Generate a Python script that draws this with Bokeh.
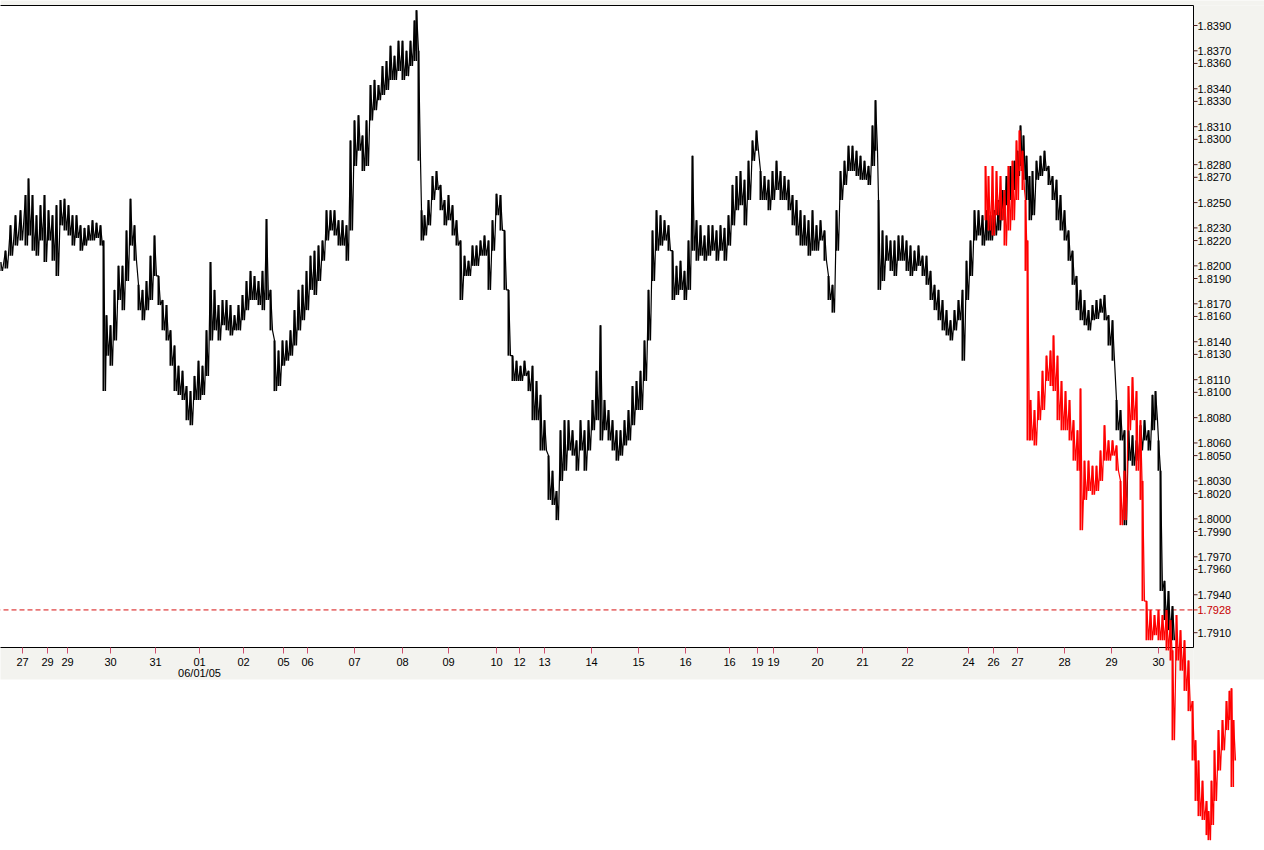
from bokeh.plotting import figure
from bokeh.models import Range1d
from bokeh.core.properties import value
from bokeh.embed import file_html
from bokeh.resources import INLINE

# ---------------- data ----------------
black_bar = [0, 5, 10, 15, 20, 25, 28, 32, 36, 40, 44, 48, 52, 56, 60, 64, 68, 72, 76, 80, 84, 88, 92, 96, 100,
             103, 106, 110, 114, 118, 122, 126, 130, 134, 138, 142, 146, 150, 154, 158, 162, 166, 170, 174, 178,
             182, 186, 190, 194, 198, 202, 206, 210, 214, 218, 222, 226, 230, 234, 238, 242, 246, 250, 254, 258,
             262, 266, 270, 274, 278, 282, 286, 290, 294, 298, 302, 306, 310, 314, 318, 322, 326, 330, 334, 338,
             342, 346, 350, 354, 358, 362, 366, 370, 374, 378, 382, 386, 390, 394, 398, 402, 406, 410, 414, 416,
             418, 421, 424, 428, 432, 436, 440, 444, 448, 452, 456, 460, 464, 468, 472, 476, 480, 484, 488, 492,
             496, 500, 504, 508, 512, 516, 520, 524, 528, 532, 536, 540, 544, 548, 552, 556, 560, 564, 568, 572,
             576, 580, 584, 588, 592, 596, 600, 604, 608, 612, 616, 620, 624, 628, 632, 636, 640, 644, 648, 652,
             656, 660, 664, 668, 672, 676, 680, 684, 688, 692, 696, 700, 704, 708, 712, 716, 720, 724, 728, 732,
             736, 740, 744, 748, 752, 756, 760, 764, 768, 772, 776, 780, 784, 788, 792, 796, 800, 804, 808, 812,
             816, 820, 824, 828, 832, 836, 840, 844, 848, 852, 856, 860, 864, 868, 872, 875, 878, 882, 886, 890,
             894, 898, 902, 906, 910, 914, 918, 922, 926, 930, 934, 938, 942, 946, 950, 954, 958, 962, 966, 970,
             974, 978, 982, 986, 990, 994, 998, 1002, 1006, 1010, 1014, 1017, 1020, 1023, 1026, 1029, 1032, 1036,
             1040, 1044, 1048, 1052, 1056, 1060, 1064, 1068, 1072, 1076, 1080, 1084, 1088, 1092, 1096, 1100, 1104,
             1108, 1112, 1116, 1120, 1124, 1128, 1132, 1136, 1140, 1144, 1148, 1152, 1155, 1158, 1160, 1164, 1168,
             1172]
black_high = [1.8203, 1.8212, 1.8232, 1.8240, 1.8244, 1.8256, 1.8269, 1.8256, 1.8240, 1.8248, 1.8256, 1.8244,
              1.8240, 1.8248, 1.8252, 1.8253, 1.8248, 1.8240, 1.8240, 1.8232, 1.8230, 1.8232, 1.8236, 1.8234,
              1.8232, 1.8220, 1.8161, 1.8153, 1.8181, 1.8200, 1.8200, 1.8228, 1.8253, 1.8232, 1.8185, 1.8181,
              1.8188, 1.8208, 1.8224, 1.8192, 1.8173, 1.8169, 1.8149, 1.8137, 1.8121, 1.8117, 1.8105, 1.8101,
              1.8113, 1.8125, 1.8121, 1.8149, 1.8203, 1.8181, 1.8169, 1.8173, 1.8173, 1.8169, 1.8161, 1.8169,
              1.8177, 1.8188, 1.8196, 1.8192, 1.8188, 1.8196, 1.8237, 1.8181, 1.8141, 1.8133, 1.8141, 1.8141,
              1.8149, 1.8165, 1.8181, 1.8185, 1.8196, 1.8208, 1.8212, 1.8216, 1.8220, 1.8244, 1.8244, 1.8244,
              1.8236, 1.8236, 1.8232, 1.8299, 1.8315, 1.8319, 1.8303, 1.8315, 1.8343, 1.8347, 1.8343, 1.8358,
              1.8362, 1.8374, 1.8366, 1.8378, 1.8378, 1.8370, 1.8378, 1.8394, 1.8402, 1.8370, 1.8244, 1.8240,
              1.8252, 1.8271, 1.8275, 1.8264, 1.8252, 1.8256, 1.8248, 1.8236, 1.8220, 1.8208, 1.8204, 1.8216,
              1.8216, 1.8220, 1.8224, 1.8220, 1.8236, 1.8257, 1.8256, 1.8228, 1.8181, 1.8129, 1.8125, 1.8121,
              1.8125, 1.8117, 1.8121, 1.8109, 1.8098, 1.8078, 1.8050, 1.8038, 1.8022, 1.8070, 1.8078, 1.8078,
              1.8070, 1.8062, 1.8078, 1.8070, 1.8078, 1.8094, 1.8117, 1.8153, 1.8094, 1.8086, 1.8078, 1.8070,
              1.8070, 1.8078, 1.8086, 1.8105, 1.8109, 1.8117, 1.8141, 1.8181, 1.8228, 1.8244, 1.8240, 1.8236,
              1.8232, 1.8212, 1.8200, 1.8204, 1.8196, 1.8220, 1.8287, 1.8236, 1.8232, 1.8224, 1.8232, 1.8232,
              1.8228, 1.8232, 1.8230, 1.8240, 1.8264, 1.8271, 1.8275, 1.8268, 1.8283, 1.8299, 1.8307, 1.8275,
              1.8271, 1.8268, 1.8275, 1.8283, 1.8275, 1.8271, 1.8268, 1.8256, 1.8252, 1.8244, 1.8240, 1.8236,
              1.8244, 1.8232, 1.8236, 1.8228, 1.8192, 1.8185, 1.8244, 1.8275, 1.8283, 1.8295, 1.8295, 1.8291,
              1.8287, 1.8283, 1.8279, 1.8311, 1.8331, 1.8252, 1.8228, 1.8224, 1.8220, 1.8220, 1.8224, 1.8224,
              1.8220, 1.8216, 1.8212, 1.8216, 1.8208, 1.8208, 1.8196, 1.8185, 1.8181, 1.8173, 1.8165, 1.8157,
              1.8165, 1.8173, 1.8181, 1.8204, 1.8220, 1.8244, 1.8244, 1.8240, 1.8244, 1.8240, 1.8244, 1.8252,
              1.8260, 1.8271, 1.8279, 1.8283, 1.8291, 1.8311, 1.8303, 1.8287, 1.8271, 1.8275, 1.8283, 1.8287,
              1.8291, 1.8279, 1.8271, 1.8268, 1.8256, 1.8244, 1.8228, 1.8212, 1.8192, 1.8181, 1.8173, 1.8165,
              1.8169, 1.8173, 1.8174, 1.8177, 1.8161, 1.8157, 1.8094, 1.8086, 1.8070, 1.8070, 1.8066, 1.8062,
              1.8074, 1.8078, 1.8070, 1.8098, 1.8101, 1.8062, 1.8038, 1.7951, 1.7943, 1.7931]
black_low = [1.8196, 1.8198, 1.8208, 1.8216, 1.8220, 1.8216, 1.8224, 1.8212, 1.8208, 1.8220, 1.8203, 1.8220,
             1.8204, 1.8192, 1.8232, 1.8228, 1.8224, 1.8216, 1.8222, 1.8212, 1.8216, 1.8220, 1.8220, 1.8222,
             1.8216, 1.8101, 1.8129, 1.8121, 1.8141, 1.8173, 1.8165, 1.8188, 1.8216, 1.8204, 1.8165, 1.8157,
             1.8165, 1.8173, 1.8192, 1.8169, 1.8149, 1.8141, 1.8121, 1.8101, 1.8098, 1.8094, 1.8078, 1.8074,
             1.8094, 1.8094, 1.8098, 1.8113, 1.8141, 1.8149, 1.8141, 1.8153, 1.8149, 1.8145, 1.8149, 1.8149,
             1.8157, 1.8165, 1.8173, 1.8173, 1.8169, 1.8165, 1.8173, 1.8149, 1.8101, 1.8105, 1.8121, 1.8125,
             1.8129, 1.8137, 1.8149, 1.8157, 1.8165, 1.8181, 1.8177, 1.8188, 1.8204, 1.8220, 1.8228, 1.8224,
             1.8216, 1.8216, 1.8204, 1.8228, 1.8279, 1.8291, 1.8275, 1.8279, 1.8315, 1.8323, 1.8331, 1.8335,
             1.8339, 1.8347, 1.8347, 1.8354, 1.8347, 1.8350, 1.8358, 1.8362, 1.8370, 1.8283, 1.8220, 1.8224,
             1.8232, 1.8252, 1.8260, 1.8244, 1.8232, 1.8236, 1.8224, 1.8216, 1.8173, 1.8192, 1.8192, 1.8200,
             1.8200, 1.8208, 1.8208, 1.8181, 1.8212, 1.8240, 1.8228, 1.8181, 1.8129, 1.8109, 1.8109, 1.8109,
             1.8113, 1.8101, 1.8078, 1.8078, 1.8054, 1.8054, 1.8015, 1.8011, 1.7999, 1.8030, 1.8038, 1.8054,
             1.8050, 1.8038, 1.8054, 1.8038, 1.8054, 1.8070, 1.8078, 1.8062, 1.8070, 1.8062, 1.8054, 1.8046,
             1.8050, 1.8058, 1.8062, 1.8074, 1.8086, 1.8086, 1.8109, 1.8141, 1.8188, 1.8212, 1.8216, 1.8220,
             1.8212, 1.8173, 1.8177, 1.8181, 1.8173, 1.8181, 1.8212, 1.8204, 1.8208, 1.8204, 1.8208, 1.8212,
             1.8204, 1.8212, 1.8204, 1.8216, 1.8232, 1.8244, 1.8248, 1.8232, 1.8252, 1.8283, 1.8291, 1.8252,
             1.8252, 1.8244, 1.8252, 1.8260, 1.8252, 1.8252, 1.8244, 1.8232, 1.8224, 1.8216, 1.8216, 1.8208,
             1.8212, 1.8212, 1.8220, 1.8204, 1.8173, 1.8163, 1.8212, 1.8252, 1.8264, 1.8275, 1.8275, 1.8271,
             1.8268, 1.8268, 1.8264, 1.8279, 1.8291, 1.8181, 1.8188, 1.8204, 1.8196, 1.8192, 1.8204, 1.8204,
             1.8196, 1.8192, 1.8196, 1.8200, 1.8192, 1.8185, 1.8173, 1.8165, 1.8157, 1.8149, 1.8145, 1.8141,
             1.8149, 1.8157, 1.8125, 1.8173, 1.8192, 1.8220, 1.8224, 1.8216, 1.8220, 1.8220, 1.8224, 1.8228,
             1.8236, 1.8248, 1.8252, 1.8260, 1.8271, 1.8279, 1.8268, 1.8252, 1.8236, 1.8240, 1.8268, 1.8271,
             1.8275, 1.8264, 1.8252, 1.8236, 1.8228, 1.8220, 1.8204, 1.8185, 1.8165, 1.8157, 1.8153, 1.8149,
             1.8157, 1.8158, 1.8163, 1.8157, 1.8137, 1.8125, 1.8070, 1.8062, 1.7995, 1.8046, 1.8042, 1.8046,
             1.8054, 1.8062, 1.8054, 1.8070, 1.8078, 1.8038, 1.7943, 1.7920, 1.7912, 1.7904]

red_bar = [985, 988, 992, 996, 1000, 1004, 1008, 1012, 1016, 1019, 1022, 1025, 1027, 1030, 1034, 1038, 1042, 1046,
           1050, 1053, 1057, 1061, 1065, 1069, 1073, 1077, 1080, 1084, 1088, 1092, 1096, 1100, 1104, 1108, 1112,
           1116, 1120, 1124, 1128, 1132, 1136, 1140, 1142, 1146, 1150, 1154, 1158, 1162, 1166, 1170, 1172, 1176,
           1180, 1184, 1188, 1192, 1195, 1198, 1202, 1206, 1208, 1211, 1214, 1218, 1222, 1226, 1229, 1231, 1233]
red_high = [1.8279, 1.8271, 1.8279, 1.8275, 1.8271, 1.8260, 1.8279, 1.8283, 1.8299, 1.8307, 1.8291, 1.8252, 1.8220,
            1.8094, 1.8086, 1.8101, 1.8117, 1.8129, 1.8133, 1.8145, 1.8129, 1.8109, 1.8101, 1.8094, 1.8078, 1.8070,
            1.8103, 1.8046, 1.8046, 1.8042, 1.8042, 1.8054, 1.8074, 1.8062, 1.8062, 1.8058, 1.8030, 1.8038, 1.8105,
            1.8112, 1.8101, 1.8078, 1.8030, 1.7935, 1.7928, 1.7924, 1.7928, 1.7924, 1.7928, 1.7920, 1.7896, 1.7924,
            1.7912, 1.7904, 1.7888, 1.7856, 1.7825, 1.7809, 1.7793, 1.7777, 1.7769, 1.7793, 1.7817, 1.7833, 1.7841,
            1.7856, 1.7864, 1.7866, 1.7841]
red_low = [1.8236, 1.8228, 1.8224, 1.8240, 1.8236, 1.8216, 1.8228, 1.8236, 1.8252, 1.8275, 1.8260, 1.8196, 1.8062,
           1.8062, 1.8058, 1.8078, 1.8086, 1.8109, 1.8105, 1.8101, 1.8078, 1.8070, 1.8070, 1.8062, 1.8046, 1.8038,
           1.7991, 1.8015, 1.8022, 1.8019, 1.8022, 1.8030, 1.8046, 1.8046, 1.8050, 1.8038, 1.7995, 1.7999, 1.8070,
           1.8078, 1.8038, 1.8015, 1.7935, 1.7904, 1.7904, 1.7908, 1.7904, 1.7904, 1.7896, 1.7888, 1.7825, 1.7888,
           1.7880, 1.7864, 1.7848, 1.7809, 1.7777, 1.7765, 1.7762, 1.7750, 1.7746, 1.7758, 1.7777, 1.7801, 1.7817,
           1.7833, 1.7841, 1.7788, 1.7809]

price_ticks = [1.8390, 1.8370, 1.8360, 1.8340, 1.8330, 1.8310, 1.8300, 1.8280, 1.8270, 1.8250, 1.8230, 1.8220,
               1.8200, 1.8190, 1.8170, 1.8160, 1.8140, 1.8130, 1.8110, 1.8100, 1.8080, 1.8060, 1.8050, 1.8030,
               1.8020, 1.8000, 1.7990, 1.7970, 1.7960, 1.7940, 1.7910]
marker_price = 1.7928

day_bars = [22, 47, 67, 110, 155, 199, 243, 283, 307, 354, 402, 448, 496, 519, 544, 591, 638, 685, 729, 757, 773,
            817, 862, 907, 968, 993, 1017, 1064, 1111, 1158]
day_labels = ["27", "29", "29", "30", "31", "01", "02", "05", "06", "07", "08", "09", "10", "12", "13", "14", "15",
              "16", "16", "19", "19", "20", "21", "22", "24", "26", "27", "28", "29", "30"]
date_bar = 199
date_label = "06/01/05"

# ---------------- layout / style ----------------
W, H = 1264, 850
PX_PER_UNIT = 12650.0       # pixels per price unit
REF_PRICE, REF_Y = 1.8390, 25


def py(y):
    """price at a pixel row of the picture"""
    return REF_PRICE - (y - REF_Y) / PX_PER_UNIT


FRAME_RIGHT = 1193
FRAME_TOP = py(5)
FRAME_BOTTOM = py(647)
BAND_BOTTOM = py(679)
GREY = "#f3f3ef"
FONT = value("Liberation Sans")
FS = value("11px")

p = figure(width=W, height=H, x_range=Range1d(0, W), y_range=Range1d(py(H), py(0)),
           output_backend="svg", toolbar_location=None, min_border=0,
           x_axis_location=None, y_axis_location=None, outline_line_color=None)
p.grid.grid_line_color = None
p.background_fill_color = "white"
p.border_fill_color = "white"

# grey title strip and axis bands
p.quad(left=[0], right=[W + 10], top=[py(-5)], bottom=[FRAME_TOP], fill_color=GREY, line_color=None)
p.quad(left=[FRAME_RIGHT], right=[W + 10], top=[FRAME_TOP], bottom=[BAND_BOTTOM],
       fill_color=GREY, line_color=None)
p.quad(left=[-5], right=[FRAME_RIGHT], top=[FRAME_BOTTOM], bottom=[BAND_BOTTOM],
       fill_color=GREY, line_color=None)
# plot frame
p.segment(x0=[-5, FRAME_RIGHT, -5], y0=[FRAME_BOTTOM, FRAME_TOP, FRAME_TOP],
          x1=[FRAME_RIGHT, FRAME_RIGHT, FRAME_RIGHT], y1=[FRAME_BOTTOM, FRAME_BOTTOM, FRAME_TOP],
          line_color="black", line_width=1)

# price ticks and labels
p.segment(x0=[FRAME_RIGHT] * len(price_ticks), x1=[FRAME_RIGHT + 4] * len(price_ticks),
          y0=price_ticks, y1=price_ticks, line_color="#502020", line_width=1)
p.text(x=[FRAME_RIGHT + 4] * len(price_ticks), y=price_ticks, text=[f"{v:.4f}" for v in price_ticks],
       text_font=FONT, text_font_size=FS, text_color="black", text_align="left", text_baseline="middle")

# marker line
p.segment(x0=[-5], x1=[FRAME_RIGHT], y0=[marker_price], y1=[marker_price], line_color="#d81010",
          line_width=1, line_dash="5 3")
p.segment(x0=[FRAME_RIGHT], x1=[FRAME_RIGHT + 4], y0=[marker_price], y1=[marker_price],
          line_color="#d81010", line_width=1)
p.text(x=[FRAME_RIGHT + 4], y=[marker_price], text=[f"{marker_price:.4f}"], text_font=FONT,
       text_font_size=FS, text_color="#c80000", text_align="left", text_baseline="middle")

# day ticks and labels
p.segment(x0=day_bars, x1=day_bars, y0=[FRAME_BOTTOM] * len(day_bars), y1=[py(653)] * len(day_bars),
          line_color="#d05070", line_width=1)
p.text(x=day_bars, y=[py(661)] * len(day_bars), text=day_labels, text_font=FONT, text_font_size=FS,
       text_color="black", text_align="center", text_baseline="middle")
p.text(x=[date_bar], y=[py(672)], text=[date_label], text_font=FONT, text_font_size=FS,
       text_color="black", text_align="center", text_baseline="middle")


def zigzag(bars, highs, lows):
    xs, ys = [], []
    for b, h, l in zip(bars, highs, lows):
        xs += [b, b + 2]
        ys += [h, l]
    return xs, ys


bx, by = zigzag(black_bar, black_high, black_low)
p.segment(x0=black_bar, x1=black_bar, y0=black_high, y1=black_low, line_color="black", line_width=2)
p.line(bx, by, line_color="black", line_width=1.2)

rx, ry = zigzag(red_bar, red_high, red_low)
p.segment(x0=red_bar, x1=red_bar, y0=red_high, y1=red_low, line_color="#ff0000", line_width=2)
p.line(rx, ry, line_color="#ff0000", line_width=1.2)

open("out.html", "w").write(file_html(p, INLINE))
